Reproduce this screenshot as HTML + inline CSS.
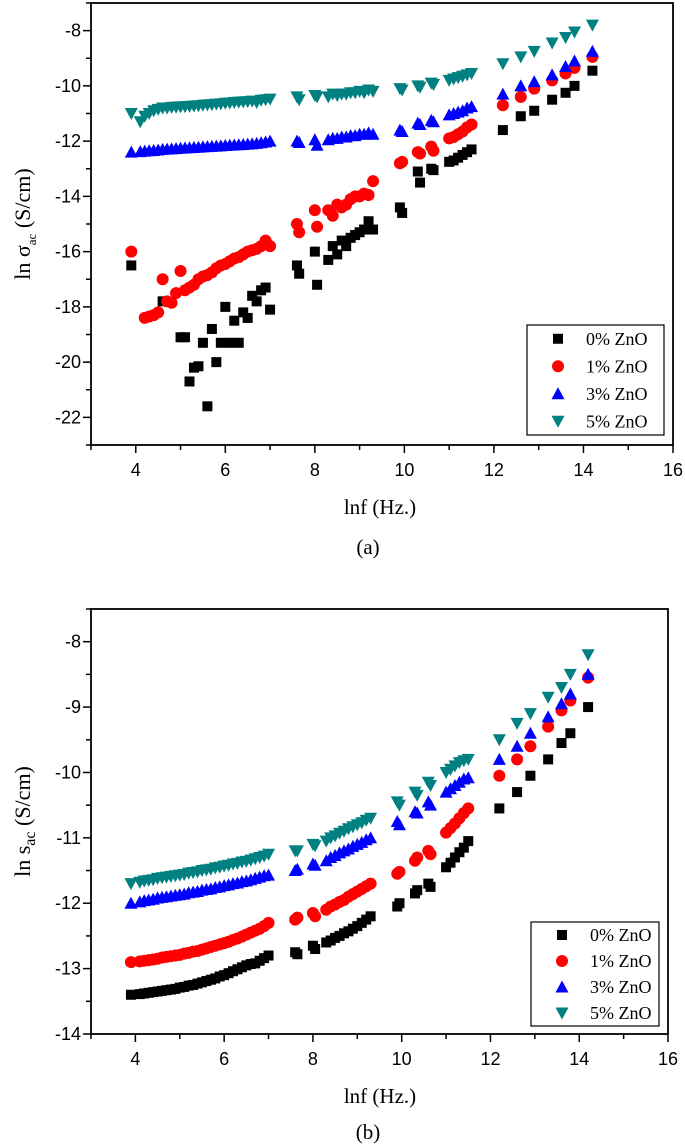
<!DOCTYPE html>
<html><head><meta charset="utf-8"><style>
html,body{margin:0;padding:0;background:#fff;}
svg{display:block;}
text{font-family:"Liberation Sans",Arial,sans-serif;}
.serif{font-family:"Liberation Serif","Times New Roman",serif;}
</style></head><body>
<svg id="fig" width="685" height="1145" viewBox="0 0 685 1145" xmlns="http://www.w3.org/2000/svg"></svg>
<script>
const xs=[3.9,4.1,4.2,4.3,4.4,4.5,4.6,4.7,4.8,4.9,5.0,5.1,5.2,5.3,5.4,5.5,5.6,5.7,5.8,5.9,6.0,6.1,6.2,6.3,6.4,6.5,6.6,6.7,6.8,6.9,7.0,7.6,7.65,8.0,8.05,8.3,8.4,8.5,8.6,8.7,8.8,8.9,9.0,9.1,9.2,9.3,9.9,9.95,10.3,10.35,10.6,10.65,11.0,11.1,11.2,11.3,11.4,11.5,12.2,12.6,12.9,13.3,13.6,13.8,14.2];
const seriesNames=["0% ZnO","1% ZnO","3% ZnO","5% ZnO"];
const xTicks=[4,6,8,10,12,14,16];
const yTicksA=[-8,-10,-12,-14,-16,-18,-20,-22];
const yTicksB=[-8,-9,-10,-11,-12,-13,-14];
const a0=[-16.5,null,null,null,null,null,-17.8,null,null,null,-19.1,-19.1,-20.7,-20.2,-20.15,-19.3,-21.6,-18.8,-20.0,-19.3,-18.0,-19.3,-18.5,-19.3,-18.2,-18.4,-17.6,-17.8,-17.4,-17.3,-18.1,-16.5,-16.8,-16.0,-17.2,-16.3,-15.8,-16.1,-15.6,-15.8,-15.5,-15.4,-15.3,-15.2,-14.9,-15.2,-14.4,-14.6,-13.1,-13.5,-13.0,-13.05,-12.75,-12.7,-12.6,-12.5,-12.4,-12.3,-11.6,-11.1,-10.9,-10.5,-10.25,-10.0,-9.45];
const a1=[-16.0,null,-18.4,-18.35,-18.3,-18.2,-17.0,-17.8,-17.85,-17.5,-16.7,-17.4,-17.3,-17.2,-17.0,-16.9,-16.85,-16.75,-16.6,-16.5,-16.45,-16.35,-16.25,-16.2,-16.1,-16.0,-15.95,-15.9,-15.8,-15.6,-15.8,-15.0,-15.3,-14.5,-15.1,-14.5,-14.7,-14.3,-14.4,-14.3,-14.1,-14.0,-14.0,-13.9,-13.95,-13.45,-12.8,-12.75,-12.4,-12.45,-12.2,-12.35,-11.9,-11.85,-11.75,-11.65,-11.5,-11.4,-10.7,-10.4,-10.1,-9.8,-9.55,-9.35,-8.95];
const a3=[-12.4,-12.38,-12.36,-12.35,-12.34,-12.32,-12.3,-12.29,-12.28,-12.27,-12.26,-12.25,-12.24,-12.23,-12.22,-12.21,-12.2,-12.19,-12.18,-12.17,-12.16,-12.15,-12.14,-12.13,-12.12,-12.11,-12.1,-12.08,-12.06,-12.03,-12.0,-12.0,-12.05,-11.95,-12.15,-11.95,-11.9,-11.9,-11.85,-11.85,-11.8,-11.8,-11.75,-11.75,-11.7,-11.75,-11.6,-11.65,-11.35,-11.4,-11.25,-11.3,-11.05,-11.0,-10.95,-10.9,-10.8,-10.75,-10.3,-10.0,-9.85,-9.6,-9.3,-9.1,-8.75];
const a5=[-11.0,-11.3,-11.1,-11.0,-10.9,-10.85,-10.8,-10.8,-10.78,-10.77,-10.76,-10.75,-10.74,-10.73,-10.72,-10.7,-10.69,-10.68,-10.66,-10.65,-10.63,-10.62,-10.6,-10.59,-10.58,-10.57,-10.55,-10.6,-10.52,-10.5,-10.48,-10.4,-10.5,-10.35,-10.4,-10.4,-10.3,-10.35,-10.3,-10.3,-10.25,-10.25,-10.2,-10.25,-10.15,-10.2,-10.1,-10.15,-10.0,-10.05,-9.9,-9.95,-9.8,-9.75,-9.7,-9.65,-9.6,-9.55,-9.2,-8.95,-8.75,-8.45,-8.25,-8.05,-7.8];
const b0=[-13.4,-13.39,-13.38,-13.37,-13.36,-13.35,-13.34,-13.33,-13.32,-13.31,-13.29,-13.28,-13.26,-13.25,-13.23,-13.21,-13.19,-13.17,-13.15,-13.12,-13.1,-13.07,-13.04,-13.01,-12.98,-12.95,-12.93,-12.92,-12.88,-12.84,-12.8,-12.75,-12.78,-12.65,-12.7,-12.6,-12.57,-12.53,-12.5,-12.46,-12.43,-12.39,-12.35,-12.3,-12.25,-12.2,-12.05,-12.0,-11.85,-11.8,-11.7,-11.75,-11.45,-11.38,-11.3,-11.22,-11.15,-11.05,-10.55,-10.3,-10.05,-9.8,-9.55,-9.4,-9.0];
const b1=[-12.9,-12.89,-12.88,-12.87,-12.86,-12.85,-12.83,-12.82,-12.81,-12.8,-12.79,-12.77,-12.76,-12.74,-12.73,-12.71,-12.69,-12.67,-12.65,-12.63,-12.61,-12.59,-12.56,-12.54,-12.51,-12.48,-12.45,-12.42,-12.39,-12.35,-12.3,-12.25,-12.22,-12.15,-12.2,-12.1,-12.05,-12.02,-11.98,-11.95,-11.9,-11.86,-11.82,-11.78,-11.74,-11.7,-11.55,-11.52,-11.35,-11.3,-11.2,-11.25,-10.92,-10.85,-10.78,-10.7,-10.62,-10.55,-10.05,-9.8,-9.6,-9.3,-9.05,-8.9,-8.55];
const b3=[-12.0,-11.98,-11.96,-11.95,-11.94,-11.92,-11.91,-11.9,-11.89,-11.88,-11.87,-11.86,-11.84,-11.83,-11.82,-11.8,-11.79,-11.78,-11.76,-11.75,-11.73,-11.72,-11.7,-11.69,-11.67,-11.66,-11.64,-11.62,-11.6,-11.58,-11.57,-11.5,-11.48,-11.4,-11.42,-11.35,-11.3,-11.27,-11.23,-11.2,-11.17,-11.13,-11.1,-11.07,-11.03,-11.0,-10.75,-10.8,-10.6,-10.62,-10.45,-10.5,-10.3,-10.25,-10.2,-10.15,-10.1,-10.08,-9.8,-9.6,-9.4,-9.15,-8.95,-8.8,-8.5];
const b5=[-11.7,-11.68,-11.66,-11.65,-11.64,-11.62,-11.61,-11.6,-11.59,-11.58,-11.57,-11.56,-11.54,-11.53,-11.52,-11.5,-11.49,-11.48,-11.46,-11.45,-11.43,-11.42,-11.4,-11.39,-11.37,-11.36,-11.34,-11.32,-11.3,-11.28,-11.25,-11.2,-11.2,-11.1,-11.12,-11.05,-11.0,-10.97,-10.93,-10.9,-10.86,-10.83,-10.8,-10.77,-10.73,-10.7,-10.45,-10.5,-10.3,-10.35,-10.15,-10.2,-10.0,-9.95,-9.9,-9.85,-9.82,-9.8,-9.5,-9.25,-9.1,-8.85,-8.7,-8.5,-8.2];

const NS="http://www.w3.org/2000/svg";
const svg=document.getElementById('fig');
const colors=["#000000","#ff0000","#0000ff","#008080"];
const shapes=["square","circle","up","down"];
function mk(tag,attrs,parent){const e=document.createElementNS(NS,tag);for(const k in attrs)e.setAttribute(k,attrs[k]);(parent||svg).appendChild(e);return e;}
function marker(g,shape,cx,cy,color){
  let e;
  if(shape==="square"){e=mk('rect',{x:cx-5,y:cy-5,width:10,height:10,fill:color},g);}
  else if(shape==="circle"){e=mk('circle',{cx:cx,cy:cy,r:6,fill:color},g);}
  else if(shape==="up"){e=mk('polygon',{points:`${cx},${cy-6.5} ${cx-6.5},${cy+5.5} ${cx+6.5},${cy+5.5}`,fill:color},g);}
  else {e=mk('polygon',{points:`${cx-6.5},${cy-5.5} ${cx+6.5},${cy-5.5} ${cx},${cy+6.5}`,fill:color},g);}
  return e;
}
function chart(cfg){
  const {L,R,T,B,yMin,yMax,yTicks,yMinorStep,series,id,tickY,titleY,capY,capText,legend,ytitle}=cfg;
  const g=mk('g',{});
  
  
  const sx=v=>L+(v-3)/(16-3)*(R-L);
  const sy=v=>B-(v-yMin)/(yMax-yMin)*(B-T);
  const frame=mk('rect',{x:L,y:T,width:R-L,height:B-T,fill:'none',stroke:'#000','stroke-width':1.8},g);
  
  
  for(let v=3;v<=16;v++){
    const major=v%2===0;
    mk('line',{x1:sx(v),x2:sx(v),y1:B,y2:B+(major?8:5),stroke:'#000','stroke-width':1.5},g);
  }
  xTicks.forEach(v=>{
    const t=mk('text',{x:sx(v),y:tickY,'text-anchor':'middle','font-size':18},g);
    t.textContent=v;
    
    
  });
  for(let v=Math.ceil(yMin/yMinorStep)*yMinorStep;v<=yMax+1e-9;v+=yMinorStep){
    const major=yTicks.some(t=>Math.abs(t-v)<1e-6);
    mk('line',{x1:L,x2:L-(major?8:5),y1:sy(v),y2:sy(v),stroke:'#000','stroke-width':1.5},g);
  }
  yTicks.forEach(v=>{
    const t=mk('text',{x:L-10,y:sy(v)+6,'text-anchor':'end','font-size':18},g);
    t.textContent=v;
    
    
  });
  series.forEach((ys,si)=>{
    const sg=mk('g',{},g);
    
    
    ys.forEach((v,i)=>{
      if(v===null)return;
      const m=marker(sg,shapes[si],sx(xs[i]),sy(v),colors[si]);
      
      
    });
  });
  const lg=mk('g',{},g);
  
  
  mk('rect',{x:legend.x,y:legend.y,width:legend.w,height:legend.h,fill:'#fff',stroke:'#000','stroke-width':1.2},lg);
  seriesNames.forEach((n,i)=>{
    const yy=legend.y+legend.h*(i+0.5)/4;
    const m=marker(lg,shapes[i],legend.x+31,yy,colors[i]);
    
    
    const t=mk('text',{x:legend.x+59,y:yy+6,'font-size':18,class:'serif'},lg);
    t.textContent=n;
    
    
  });
  const xt=mk('text',{x:380,y:titleY,'text-anchor':'middle','font-size':21,class:'serif'},g);
  xt.textContent='lnf (Hz.)';
  
  
  const cp=mk('text',{x:368,y:capY,'text-anchor':'middle','font-size':21,class:'serif'},g);
  cp.textContent=capText;
  
  
  const yt=mk('text',{x:0,y:0,'text-anchor':'middle','font-size':22,class:'serif',transform:`translate(${ytitle.x},${(T+B)/2}) rotate(-90)`},g);
  
  
  yt.innerHTML=ytitle.html;
}
chart({id:'a',L:91,R:673,T:3,B:445,yMin:-23,yMax:-7,yTicks:yTicksA,yMinorStep:1,series:[a0,a1,a3,a5],tickY:476,titleY:514,capY:554,capText:'(a)',
  legend:{x:527,y:325,w:137,h:110},ytitle:{x:30,html:'ln σ<tspan font-size="13" dy="6">ac</tspan><tspan dy="-6"> (S/cm)</tspan>'}});
chart({id:'b',L:91,R:668,T:609,B:1034,yMin:-14,yMax:-7.5,yTicks:yTicksB,yMinorStep:0.5,series:[b0,b1,b3,b5],tickY:1065,titleY:1103,capY:1139,capText:'(b)',
  legend:{x:531,y:922,w:128,h:104},ytitle:{x:30,html:'ln s<tspan font-size="16" dy="5">ac</tspan><tspan dy="-5"> (S/cm)</tspan>'}});
</script>
</body></html>
